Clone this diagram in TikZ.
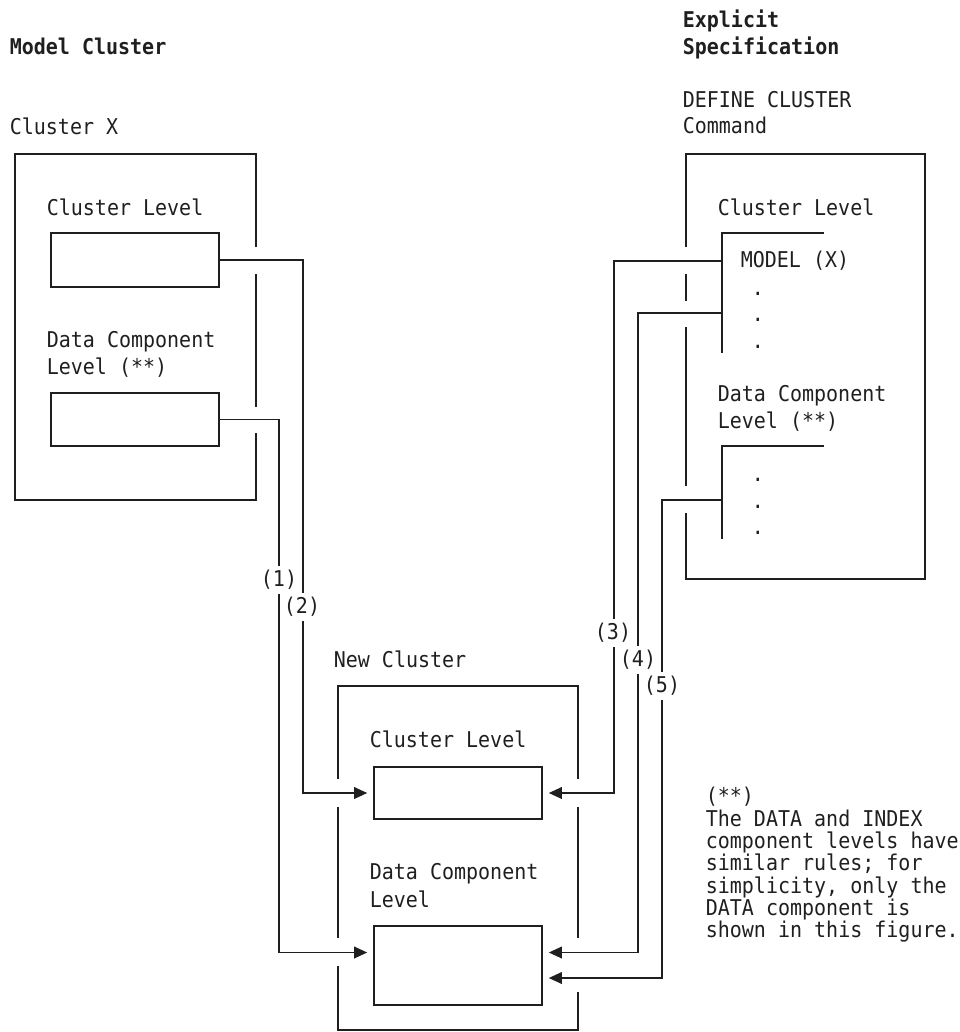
\documentclass[tikz,border=0pt]{standalone}
\usepackage{fontspec}
\setmonofont[FakeStretch=0.92]{DejaVu Sans Mono}
\usetikzlibrary{arrows.meta}

\tikzset{
  mono/.style={font=\ttfamily\fontsize{10.87}{12}\selectfont},
  txt/.style={mono, anchor=base west, inner sep=0pt},
  head/.style={txt, font=\ttfamily\bfseries\fontsize{10.87}{12}\selectfont},
  dotmark/.style={mono, anchor=base, inner sep=0pt},
  slot/.style={draw, rectangle, inner sep=0pt, minimum width=84pt},
  link/.style={-{Triangle[length=6.5pt,width=5.8pt]}, shorten >=3pt},
  tag/.style={mono, fill=white, inner xsep=0.5pt, inner ysep=2.2pt},
}

\begin{document}
\begin{tikzpicture}[x=0.5pt, y=-0.5pt, line width=0.8pt, color=black!88]
\useasboundingbox (0,0) rectangle (959,1032);

% ---------- headings ----------
\node[head] (hmodel) at (9,55) {Model Cluster};
\node[head] (hexp1) at (682,28) {Explicit};
\node[head] (hexp2) at (682,55) {Specification};
\node[txt] (clx) at (9,135) {Cluster X};
\node[txt] (def1) at (682,108) {DEFINE CLUSTER};
\node[txt] (def2) at (682,134) {Command};

% ---------- model cluster X ----------
\draw (256,247) -- (256,154) -- (15,154) -- (15,500) -- (256,500) -- (256,433);
\draw (256,274) -- (256,407);
\node[txt] (xcltxt) at (46,215) {Cluster Level};
\node[slot, minimum height=27pt] (xcl) at (135,260) {};
\node[txt] (xdctxt1) at (46,347) {Data Component};
\node[txt] (xdctxt2) at (46,374) {Level (**)};
\node[slot, minimum height=26.5pt] (xdc) at (135,419.5) {};

% ---------- DEFINE CLUSTER command ----------
\draw (686,247) -- (686,154) -- (925,154) -- (925,579) -- (686,579) -- (686,513);
\draw (686,274) -- (686,301);
\draw (686,327) -- (686,486);
\node[txt] (dcltxt) at (717,215) {Cluster Level};
\draw (824,233) -- (722,233) -- (722,353);
\node[txt] (model) at (740,267) {MODEL (X)};
\node[dotmark] (d1) at (758,295) {.};
\node[dotmark] (d2) at (758,321) {.};
\node[dotmark] (d3) at (758,348) {.};
\node[txt] (ddctxt1) at (717,401) {Data Component};
\node[txt] (ddctxt2) at (717,428) {Level (**)};
\draw (824,446) -- (722,446) -- (722,539);
\node[dotmark] (d4) at (758,481) {.};
\node[dotmark] (d5) at (758,508) {.};
\node[dotmark] (d6) at (758,534) {.};
\coordinate (m3) at (722,261);
\coordinate (m4) at (722,313);
\coordinate (m5) at (722,500);

% ---------- new cluster ----------
\node[txt] (newtxt) at (333,667) {New Cluster};
\draw (338,779) -- (338,686) -- (578,686) -- (578,779);
\draw (338,807) -- (338,938);
\draw (578,807) -- (578,938);
\draw (338,966) -- (338,1030) -- (578,1030) -- (578,992);
\node[txt] (ncltxt) at (369,747) {Cluster Level};
\node[slot, minimum height=26pt] (ncl) at (458,793) {};
\node[txt] (ndctxt1) at (369,879) {Data Component};
\node[txt] (ndctxt2) at (369,907) {Level};
\node[slot, minimum height=39.5pt] (ndc) at (458,965.5) {};

% ---------- connector columns ----------
\coordinate (c1) at (279,0);
\coordinate (c2) at (303,0);
\coordinate (c3) at (614,0);
\coordinate (c4) at (638,0);
\coordinate (c5) at (662,0);

\draw[link] (xdc.east) -- (xdc.east -| c1) |- ([yshift=6.5pt]ndc.west);
\draw[link] (xcl.east) -- (xcl.east -| c2) |- (ncl.west);
\draw[link] (m3) -- (m3 -| c3) |- (ncl.east);
\draw[link] (m4) -- (m4 -| c4) |- ([yshift=6.5pt]ndc.east);
\draw[link] (m5) -- (m5 -| c5) |- ([yshift=-6.25pt]ndc.east);

\node[tag] (t1) at (279,580) {(1)};
\node[tag] (t2) at (302,607) {(2)};
\node[tag] (t3) at (613,633) {(3)};
\node[tag] (t4) at (638,660) {(4)};
\node[tag] (t5) at (662,686) {(5)};

% ---------- footnote ----------
\node[txt] (f0) at (705,803) {(**)};
\node[txt] (f1) at (705,826) {The DATA and INDEX};
\node[txt] (f2) at (705,848) {component levels have};
\node[txt] (f3) at (705,870) {similar rules; for};
\node[txt] (f4) at (705,893) {simplicity, only the};
\node[txt] (f5) at (705,915) {DATA component is};
\node[txt] (f6) at (705,937) {shown in this figure.};
\end{tikzpicture}
\end{document}
